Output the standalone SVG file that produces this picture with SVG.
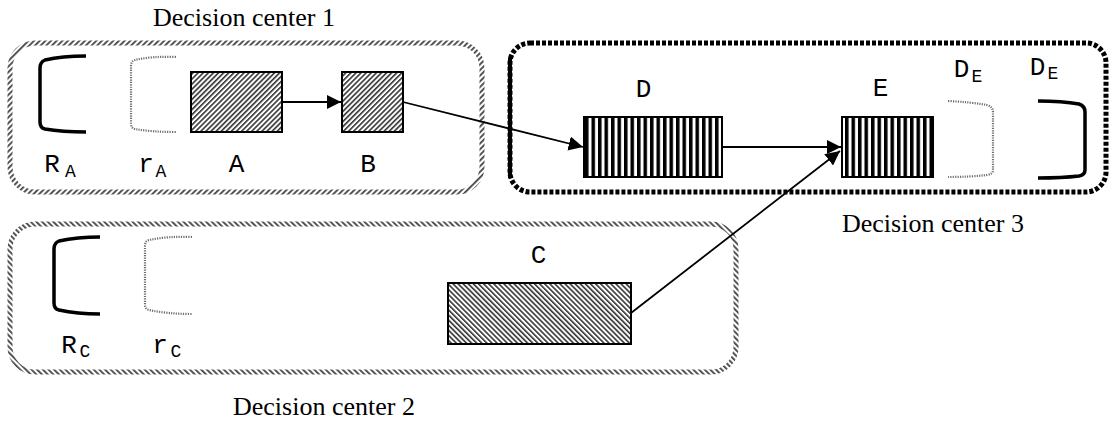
<svg xmlns="http://www.w3.org/2000/svg" width="1110" height="421" viewBox="0 0 1110 421">
  <style>
    .title { font-family: "Liberation Serif", "Times New Roman", serif; font-size: 26px; fill: #000; }
    .mono { font-family: "Liberation Mono", "Courier New", monospace; font-size: 26px; fill: #000; text-anchor: middle; }
    .sub { font-family: "Liberation Mono", "Courier New", monospace; font-size: 18px; fill: #000; text-anchor: middle; }
    .bracket { fill: none; stroke: #000; stroke-width: 3.5; stroke-linecap: butt; stroke-linejoin: round; }
    .soft { fill: none; stroke: #6e6e6e; stroke-width: 2.2; stroke-dasharray: 1.2 1.2; }
    .edge { fill: none; stroke: #000; stroke-width: 1.8; }
    .box { stroke: #000; stroke-width: 2; }
  </style>
  <defs>
    <!-- diagonal hatching, "/" direction -->
    <pattern id="hatchFwd" patternUnits="userSpaceOnUse" width="3.6" height="3.6" patternTransform="rotate(45)">
      <rect width="3.6" height="3.6" fill="#fff"/>
      <rect width="1.6" height="3.6" fill="#333"/>
    </pattern>
    <!-- diagonal hatching, "\" direction -->
    <pattern id="hatchBack" patternUnits="userSpaceOnUse" width="3.6" height="3.6" patternTransform="rotate(-45)">
      <rect width="3.6" height="3.6" fill="#fff"/>
      <rect width="1.6" height="3.6" fill="#333"/>
    </pattern>
    <!-- hatched borders of the decision-center frames -->
    <pattern id="rimFwd" patternUnits="userSpaceOnUse" width="4" height="4" patternTransform="rotate(45)">
      <rect width="4" height="4" fill="#fff"/>
      <rect width="1.8" height="4" fill="#444"/>
    </pattern>
    <pattern id="rimBack" patternUnits="userSpaceOnUse" width="4" height="4" patternTransform="rotate(-45)">
      <rect width="4" height="4" fill="#fff"/>
      <rect width="1.8" height="4" fill="#444"/>
    </pattern>
    <!-- vertical bars -->
    <pattern id="bars" patternUnits="userSpaceOnUse" width="6.5" height="10">
      <rect width="6.5" height="10" fill="#fff"/>
      <rect width="3.5" height="10" fill="#000"/>
    </pattern>
    <marker id="arrow" viewBox="0 0 10 10" refX="10" refY="5" markerWidth="8" markerHeight="8" markerUnits="strokeWidth" orient="auto">
      <path d="M0,0 L10,5 L0,10 Z" fill="#000"/>
    </marker>
  </defs>

  <rect width="1110" height="421" fill="#fff"/>

  <!-- Decision center 1 -->
  <g id="center1">
    <rect x="10" y="43" width="472" height="149" rx="25" ry="25" fill="none" stroke="url(#rimFwd)" stroke-width="5"/>
    <text class="title" x="153" y="26">Decision center 1</text>
  </g>

  <!-- Decision center 2 -->
  <g id="center2">
    <rect x="10" y="224" width="726" height="148" rx="25" ry="25" fill="none" stroke="url(#rimBack)" stroke-width="5"/>
    <text class="title" x="233" y="415">Decision center 2</text>
  </g>

  <!-- Decision center 3 -->
  <g id="center3">
    <rect x="510" y="43" width="596" height="149" rx="20" ry="20" fill="none" stroke="#000" stroke-width="5" stroke-dasharray="4 2"/>
    <line x1="510" y1="58" x2="510" y2="178" stroke="#000" stroke-width="4"/>
    <text class="title" x="842" y="232">Decision center 3</text>
  </g>

  <!-- resources of A -->
  <g id="RA">
    <path class="bracket" d="M86,56 Q62,56 45,60 Q40,62 40,68 L40,122 Q40,128 45,129 Q62,132 86,132"/>
    <text class="mono" x="52" y="172">R</text>
    <text class="sub" x="70.5" y="177">A</text>
  </g>
  <g id="rA">
    <path class="soft" d="M176,57 Q152,56 135,60 Q131,61 131,66 L131,124 Q131,128 135,129 Q152,132 176,132"/>
    <text class="mono" x="146" y="172">r</text>
    <text class="sub" x="161" y="177">A</text>
  </g>

  <!-- task A -->
  <g id="A">
    <rect class="box" x="191" y="72" width="91" height="60" fill="url(#hatchFwd)"/>
    <text class="mono" x="236.5" y="172">A</text>
  </g>

  <!-- task B -->
  <g id="B">
    <rect class="box" x="342" y="72" width="61" height="60" fill="url(#hatchFwd)"/>
    <text class="mono" x="368" y="172">B</text>
  </g>

  <!-- task D -->
  <g id="D">
    <rect class="box" x="584" y="117" width="138" height="60" fill="url(#bars)"/>
    <text class="mono" x="643.5" y="97">D</text>
  </g>

  <!-- task E -->
  <g id="E">
    <rect class="box" x="842" y="117" width="91" height="60" fill="url(#bars)"/>
    <text class="mono" x="880.5" y="96">E</text>
  </g>

  <!-- deliverables of E -->
  <g id="dE">
    <path class="soft" d="M948,101 Q970,102 987,105 Q993,107 993,112 L993,170 Q993,174 987,175 Q970,177 948,177"/>
    <text class="mono" x="961.5" y="77">D</text>
    <text class="sub" x="977" y="82">E</text>
  </g>
  <g id="DE">
    <path class="bracket" d="M1038,101 Q1062,101 1079,104 Q1085,106 1085,112 L1085,170 Q1085,175 1079,176 Q1062,178 1038,178"/>
    <text class="mono" x="1037.5" y="75">D</text>
    <text class="sub" x="1053" y="79">E</text>
  </g>

  <!-- resources of C -->
  <g id="RC">
    <path class="bracket" d="M100,237 Q77,237 59,241 Q54,243 54,249 L54,303 Q54,309 59,310 Q77,314 100,314"/>
    <text class="mono" x="69" y="353">R</text>
    <text class="sub" x="85" y="357">C</text>
  </g>
  <g id="rC">
    <path class="soft" d="M192,237 Q168,236 149,240 Q145,241 145,246 L145,305 Q145,309 149,310 Q168,314 192,314"/>
    <text class="mono" x="160" y="353">r</text>
    <text class="sub" x="176" y="357">C</text>
  </g>

  <!-- task C -->
  <g id="C">
    <rect class="box" x="448" y="283" width="183" height="61" fill="url(#hatchBack)"/>
    <text class="mono" x="538.5" y="263">C</text>
  </g>

  <!-- precedence links -->
  <g id="connectors">
    <line class="edge" x1="282" y1="102" x2="341" y2="102" marker-end="url(#arrow)"/>
    <line class="edge" x1="403" y1="102" x2="583" y2="147" marker-end="url(#arrow)"/>
    <line class="edge" x1="722" y1="147" x2="841" y2="147" marker-end="url(#arrow)"/>
    <line class="edge" x1="631" y1="313" x2="840" y2="151" marker-end="url(#arrow)"/>
  </g>
</svg>
